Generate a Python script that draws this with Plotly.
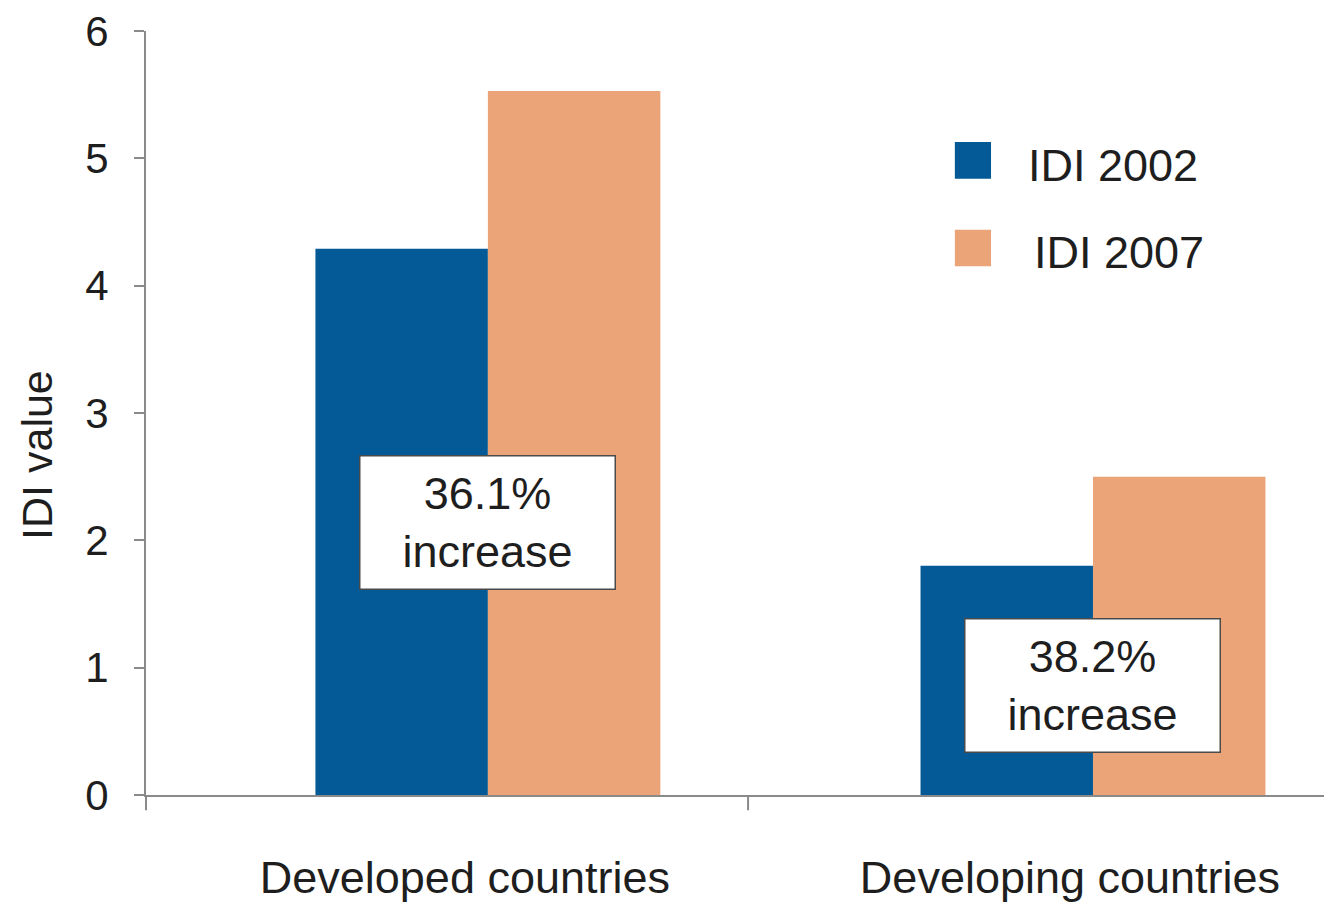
import plotly.graph_objects as go

# data
categories = ['Developed countries', 'Developing countries']
series_names = ['IDI 2002', 'IDI 2007']
idi_2002 = [4.29, 1.80]
idi_2007 = [5.53, 2.50]
increase_labels = ['36.1%<br>increase', '38.2%<br>increase']
colors = ['#045a96', '#eba378']

FONT = 'Liberation Sans, Arial, sans-serif'
TXT = '#1e1e1e'

fig = go.Figure()
for name, vals, col in zip(series_names, [idi_2002, idi_2007], colors):
    fig.add_trace(go.Bar(
        name=name,
        x=categories,
        y=vals,
        marker=dict(color=col, line=dict(width=0)),
        showlegend=False,
        hoverinfo='x+y+name',
    ))

# axis extras: y axis runs a bit below zero, tick between the groups
shapes = [
    dict(type='line', xref='paper', yref='paper', x0=0, x1=0, y0=0, y1=-0.02,
         line=dict(color='#8a8a8a', width=2)),
    dict(type='line', xref='x', yref='paper', x0=0.43, x1=0.43, y0=0, y1=-0.02,
         line=dict(color='#8a8a8a', width=2)),
]

# legend drawn as big squares like the original
leg_y = [0.8306, 0.7160]
leg_txt_x = [0.742, 0.747]
annotations = []
for i, (name, col) in enumerate(zip(series_names, colors)):
    shapes.append(dict(type='rect', xref='paper', yref='paper',
                       x0=0.682, x1=0.7125, y0=leg_y[i] - 0.024, y1=leg_y[i] + 0.024,
                       fillcolor=col, line=dict(width=0)))
    annotations.append(dict(xref='paper', yref='paper', x=leg_txt_x[i], y=leg_y[i] - 0.006,
                            text=name, showarrow=False, xanchor='left', yanchor='middle',
                            font=dict(family=FONT, size=45, color=TXT)))

# increase boxes
box_y = [2.14, 0.864]
for i, cat in enumerate(categories):
    annotations.append(dict(x=cat, y=box_y[i], xref='x', yref='y',
                            text=increase_labels[i], showarrow=False,
                            xanchor='center', yanchor='middle',
                            width=254, height=132, align='center', valign='middle',
                            bgcolor='white', bordercolor='#4a4a4a', borderwidth=1.5, borderpad=0,
                            font=dict(family=FONT, size=45, color=TXT)))

annotations.append(dict(xref='paper', yref='paper', x=-0.092, y=0.445,
                        text='IDI value', textangle=-90, showarrow=False,
                        xanchor='center', yanchor='middle',
                        font=dict(family=FONT, size=43, color=TXT)))

# page body has an 8px margin, so the figure is a bit smaller than the window
fig.update_layout(
    barmode='group',
    bargap=0.43,
    bargroupgap=0,
    width=1324,
    height=895,
    margin=dict(l=138, r=0, t=21, b=106),
    paper_bgcolor='white',
    plot_bgcolor='white',
    font=dict(family=FONT, size=42, color=TXT),
    xaxis=dict(
        type='category',
        range=[-0.565, 1.395],
        showline=True, linecolor='#8a8a8a', linewidth=2,
        ticks='', showgrid=False, zeroline=False,
        tickfont=dict(family=FONT, size=45, color=TXT),
        ticklabelstandoff=42,
        ticklabelshift=-23,
    ),
    yaxis=dict(
        range=[0, 6.001],
        tickvals=[0, 1, 2, 3, 4, 5, 6],
        showline=True, linecolor='#8a8a8a', linewidth=2,
        ticks='outside', ticklen=10, tickwidth=1.5, tickcolor='#8a8a8a',
        showgrid=False, zeroline=False,
        tickfont=dict(family=FONT, size=42, color=TXT),
        ticklabelstandoff=17,
        ticklabeloverflow='allow',
    ),
    shapes=shapes,
    annotations=annotations,
    showlegend=False,
)

fig.write_html('out.html')
